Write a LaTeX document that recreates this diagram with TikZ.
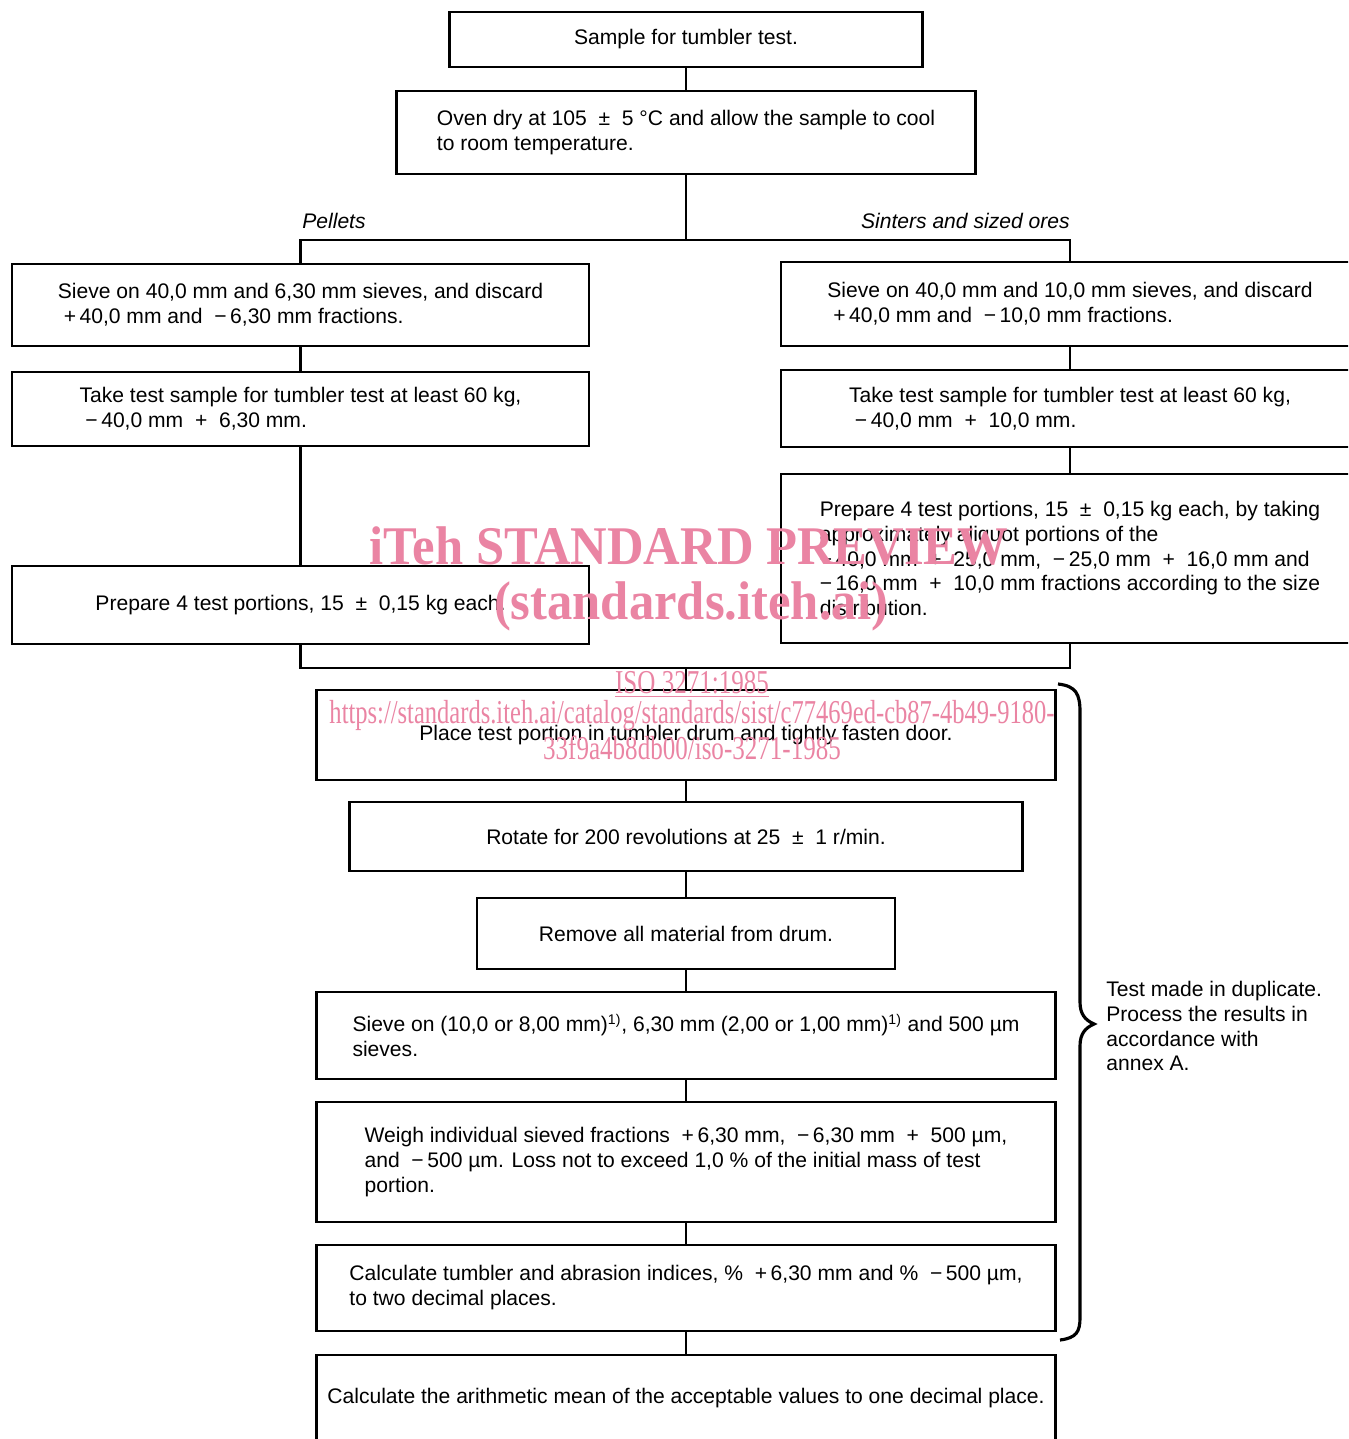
\documentclass[tikz,border=0pt]{standalone}
\usepackage{fontspec}
\setmainfont{Liberation Sans}
\newfontfamily\wmfont{Liberation Serif}
\definecolor{wmpink}{RGB}{234,132,163}
\begin{document}
\begin{tikzpicture}[x=0.02cm, y=-0.02cm,
    every node/.style={font=\fontsize{12}{14.2}\selectfont},
    stepbox/.style={draw, line width=1.6pt, align=left, inner sep=0pt},
    link/.style={line width=1.3pt},
    branch/.style={font=\fontsize{12}{14.2}\selectfont\itshape, inner sep=0pt},
    wmark/.style={text=wmpink, inner sep=0pt}]
  \useasboundingbox (0,0) rectangle (1348,1439);
  \clip (0,0) rectangle (1348,1439);
  \node[stepbox, minimum width=9.46cm, minimum height=1.1cm] (sample) at (686,39.5) {Sample for tumbler test.};
  \node[stepbox, minimum width=11.58cm, minimum height=1.66cm] (oven) at (686,132.5)
    {Oven dry at 105~ ±~ 5 °C and allow the sample to cool\\to room temperature.};
  \node[stepbox, minimum width=11.54cm, minimum height=1.64cm] (lsieve) at (300.5,305)
    {Sieve on 40,0 mm and 6,30 mm sieves, and discard\\~+\,40,0 mm and ~−\,6,30 mm fractions.};
  \node[stepbox, minimum width=11.54cm, minimum height=1.48cm] (ltake) at (300.5,409)
    {Take test sample for tumbler test at least 60 kg,\\~−\,40,0 mm~ +~ 6,30 mm.};
  \node[stepbox, minimum width=11.54cm, minimum height=1.56cm] (lprep) at (300.5,605)
    {Prepare 4 test portions, 15~ ±~ 0,15 kg each.};
  \node[stepbox, minimum width=11.56cm, minimum height=1.68cm] (rsieve) at (1070,304)
    {Sieve on 40,0 mm and 10,0 mm sieves, and discard\\~+\,40,0 mm and ~−\,10,0 mm fractions.};
  \node[stepbox, minimum width=11.56cm, minimum height=1.54cm] (rtake) at (1070,408.5)
    {Take test sample for tumbler test at least 60 kg,\\~−\,40,0 mm~ +~ 10,0 mm.};
  \node[stepbox, minimum width=11.56cm, minimum height=3.38cm] (rprep) at (1070,558.5)
    {Prepare 4 test portions, 15~ ±~ 0,15 kg each, by taking\\approximately aliquot portions of the\\−\,40,0 mm~ +~ 25,0 mm, ~−\,25,0 mm~ +~ 16,0 mm and\\−\,16,0 mm~ +~ 10,0 mm fractions according to the size\\distribution.};
  \node[stepbox, minimum width=14.78cm, minimum height=1.8cm] (place) at (686,735)
    {Place test portion in tumbler drum and tightly fasten door.};
  \node[stepbox, minimum width=13.46cm, minimum height=1.38cm] (rotate) at (686,836.5)
    {Rotate for 200 revolutions at 25~ ±~ 1 r/min.};
  \node[stepbox, minimum width=8.36cm, minimum height=1.42cm] (remove) at (686,933.5)
    {Remove all material from drum.};
  \node[stepbox, minimum width=14.78cm, minimum height=1.74cm] (sieve) at (686,1035.5)
    {Sieve on (10,0 or 8,00 mm)\textsuperscript{1)}, 6,30 mm (2,00 or 1,00 mm)\textsuperscript{1)} and 500 µm\\sieves.};
  \node[stepbox, minimum width=14.78cm, minimum height=2.4cm] (weigh) at (686,1162)
    {Weigh individual sieved fractions~ +\,6,30 mm, ~−\,6,30 mm~ +~ 500 µm,\\and ~−\,500 µm. Loss not to exceed 1,0 \% of the initial mass of test\\portion.};
  \node[stepbox, minimum width=14.78cm, minimum height=1.72cm] (calc) at (686,1288)
    {Calculate tumbler and abrasion indices, \%~ +\,6,30 mm and \%~ −\,500 µm,\\to two decimal places.};
  \node[stepbox, minimum width=14.78cm, minimum height=1.72cm] (mean) at (686,1398)
    {Calculate the arithmetic mean of the acceptable values to one decimal place.};
  \node[branch, anchor=base west] (pellets) at (302,229) {Pellets};
  \node[branch, anchor=base east] (sinters) at (1070,229) {Sinters and sized ores};
  \node[anchor=west, align=left, inner sep=0pt] (dupl) at (1106,1026)
    {Test made in duplicate.\\Process the results in\\accordance with\\annex A.};
  \coordinate (split) at (686,240);
  \coordinate (merge) at (686,668);
  \draw[link] (sample) -- (oven);
  \draw[link] (oven) -- (split);
  \draw[link] (lsieve.north) |- (split) -| (rsieve.north);
  \draw[link] (lsieve) -- (ltake);
  \draw[link] (ltake) -- (lprep);
  \draw[link] (rsieve) -- (rtake);
  \draw[link] (rtake) -- (rprep);
  \draw[link] (lprep.south) |- (merge) -| (rprep.south);
  \draw[link] (merge) -- (place);
  \draw[link] (place) -- (rotate);
  \draw[link] (rotate) -- (remove);
  \draw[link] (remove) -- (sieve);
  \draw[link] (sieve) -- (weigh);
  \draw[link] (weigh) -- (calc);
  \draw[link] (calc) -- (mean);
  \draw[line width=1.8pt] (1058,684) .. controls (1076,686) and (1080,694) .. (1080,712) -- (1080,1002)
    .. controls (1080,1014) and (1085,1020) .. (1094,1024) .. controls (1085,1028) and (1080,1034) .. (1080,1046)
    -- (1080,1318) .. controls (1080,1332) and (1076,1338) .. (1060,1340);
  \node[wmark, font=\fontsize{31}{31}\wmfont\bfseries, xscale=0.93] (wm1) at (689,546) {iTeh STANDARD PREVIEW};
  \node[wmark, font=\fontsize{31}{31}\wmfont\bfseries, xscale=0.93] (wm2) at (691,606) {(standards.iteh.ai)};
  \node[wmark, font=\fontsize{19}{19}\wmfont, xscale=0.75] (wm3) at (692,684) {\underline{ISO 3271:1985}};
  \node[wmark, font=\fontsize{19}{19}\wmfont, xscale=0.735] (wm4) at (692,716) {https://standards.iteh.ai/catalog/standards/sist/c77469ed-cb87-4b49-9180-};
  \node[wmark, font=\fontsize{19}{19}\wmfont, xscale=0.75] (wm5) at (692,748) {33f9a4b8db00/iso-3271-1985};
\end{tikzpicture}
\end{document}
